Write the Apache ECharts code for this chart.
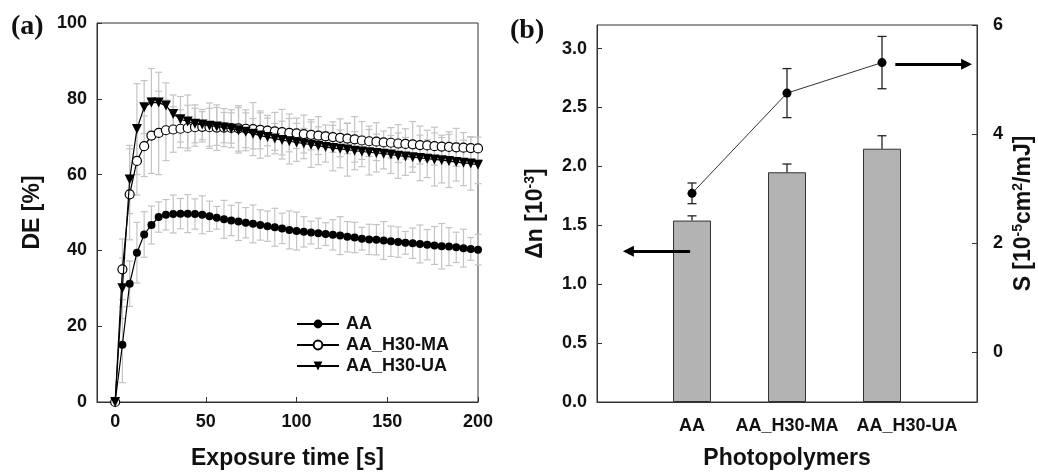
<!DOCTYPE html>
<html>
<head>
<meta charset="utf-8">
<script src="https://cdn.jsdelivr.net/npm/echarts@6/dist/echarts.min.js"></script>
<style>
  html, body { margin: 0; padding: 0; background: #fff; }
  #c { width: 1038px; height: 475px; }
</style>
</head>
<body>
<div id="c"></div>
<script>
// ---- (a) diffraction efficiency vs exposure time ----
const times = [0, 4, 8, 12, 16, 20, 24, 28, 32, 36,
  40, 44, 48, 52, 56, 60, 64, 68, 72, 76,
  80, 84, 88, 92, 96, 100, 104, 108, 112, 116,
  120, 124, 128, 132, 136, 140, 144, 148, 152, 156,
  160, 164, 168, 172, 176, 180, 184, 188, 192, 196, 200];

const deAA = [0, 15.1, 31.2, 39.4, 44.2, 46.7, 48.8, 49.4, 49.6, 49.7,
  49.7, 49.6, 49.4, 49.0, 48.6, 48.2, 47.9, 47.6, 47.3, 47.0,
  46.7, 46.4, 46.1, 45.8, 45.4, 45.1, 44.9, 44.7, 44.5, 44.3,
  44.1, 43.9, 43.6, 43.4, 43.1, 42.9, 42.8, 42.6, 42.4, 42.2,
  42.0, 41.9, 41.7, 41.5, 41.3, 41.1, 41.0, 40.8, 40.6, 40.4, 40.2];
const errAA = [0, 10, 6, 8, 6, 5, 4, 4, 5, 4,
  5, 4, 5, 4, 3, 5, 4, 5, 4, 5,
  4, 4, 5, 4, 5, 5, 4, 3, 4, 3,
  4, 5, 4, 4, 3, 4, 4, 5, 4, 4,
  3, 4, 5, 4, 5, 6, 5, 4, 5, 3, 4];

const deMA = [0, 35.0, 54.8, 63.6, 67.5, 70.3, 71.0, 71.7, 71.9, 72.1,
  72.3, 72.5, 72.6, 72.5, 72.4, 72.4, 72.3, 72.2, 72.1, 72.0,
  71.8, 71.6, 71.4, 71.2, 71.0, 70.9, 70.7, 70.5, 70.3, 70.1,
  69.9, 69.7, 69.5, 69.3, 69.0, 68.8, 68.7, 68.5, 68.4, 68.2,
  68.1, 68.0, 67.8, 67.7, 67.5, 67.4, 67.3, 67.2, 67.1, 67.0, 66.9];
const errMA = [0, 8, 12, 9, 8, 10, 11, 8, 6, 5,
  6, 5, 4, 5, 6, 5, 4, 6, 5, 7,
  5, 4, 5, 6, 5, 4, 5, 4, 5, 3,
  4, 5, 4, 6, 5, 4, 5, 3, 4, 5,
  4, 6, 5, 4, 5, 3, 4, 5, 4, 3, 3];

const deUA = [0, 30.0, 58.7, 72.0, 77.8, 79.0, 79.0, 78.2, 76.0, 74.6,
  74.0, 73.4, 73.2, 72.9, 72.7, 72.4, 72.1, 71.7, 71.3, 70.8,
  70.3, 69.9, 69.5, 69.1, 68.8, 68.5, 68.2, 67.9, 67.6, 67.3,
  67.0, 66.8, 66.6, 66.3, 66.1, 65.9, 65.7, 65.5, 65.3, 65.0,
  64.8, 64.6, 64.4, 64.2, 64.0, 63.8, 63.6, 63.3, 63.1, 62.9, 62.6];
const errUA = [0, 8, 9, 12, 7, 9, 8, 6, 5, 6,
  7, 5, 4, 6, 5, 4, 5, 6, 5, 4,
  6, 5, 4, 5, 6, 5, 4, 6, 5, 4,
  6, 5, 7, 5, 4, 6, 5, 4, 5, 6,
  5, 4, 6, 5, 7, 6, 7, 5, 6, 7, 5];

const timeTicks = [0, 50, 100, 150, 200];

// ---- (b) refractive index modulation and sensitivity ----
const polymers = ['AA', 'AA_H30-MA', 'AA_H30-UA'];
const deltaN = [1.54, 1.95, 2.15];
const deltaNErr = [0.04, 0.07, 0.11];
const sensitivity = [2.91, 4.75, 5.31];
const sensitivityErr = [0.19, 0.45, 0.48];
const deltaNTicks = [0, 0.5, 1.0, 1.5, 2.0, 2.5, 3.0];
const sensTicks = [0, 2, 4, 6];
// arrows pointing to the axis each series belongs to: [x, y] tail and head
const arrowLeft = [[0.98, 1.28], [0.33, 1.28]];
const arrowRight = [[3.14, 5.28], [3.89, 5.28]];

const FONT = '"Liberation Sans", Arial, sans-serif';
const INK = '#111';
const AXIS = '#333';

function pairs(xs, ys) { return xs.map((x, i) => [x, ys[i]]); }
function triples(xs, ys, es) { return xs.map((x, i) => [x, ys[i], es[i]]); }

// error bar with caps (optionally only the upper half)
function errorBar(color, capHalf, width, upperOnly) {
  return function (params, api) {
    const x = api.value(0), y = api.value(1), e = api.value(2);
    if (!e) return null;
    const lo = api.coord([x, upperOnly ? y : y - e]);
    const hi = api.coord([x, y + e]);
    const style = { stroke: color, lineWidth: width };
    const kids = [
      { type: 'line', shape: { x1: lo[0], y1: lo[1], x2: hi[0], y2: hi[1] }, style },
      { type: 'line', shape: { x1: hi[0] - capHalf, y1: hi[1], x2: hi[0] + capHalf, y2: hi[1] }, style }
    ];
    if (!upperOnly) {
      kids.push({ type: 'line', shape: { x1: lo[0] - capHalf, y1: lo[1], x2: lo[0] + capHalf, y2: lo[1] }, style });
    }
    return { type: 'group', children: kids };
  };
}

const tickLabel = { fontFamily: FONT, fontSize: 18, fontWeight: 'bold', color: INK };
const axisName = { fontFamily: FONT, fontSize: 23, fontWeight: 'bold', color: INK };
const supRich = {
  n: { fontFamily: FONT, fontSize: 23, fontWeight: 'bold', color: INK },
  s: { fontFamily: FONT, fontSize: 14, fontWeight: 'bold', color: INK, padding: [0, 0, 12, 0] }
};
const catRich = {
  c: { fontFamily: FONT, fontSize: 18, fontWeight: 'bold', color: INK },
  r: { fontFamily: FONT, fontSize: 18, fontWeight: 'bold', color: INK, padding: [0, 0, 0, 50] }
};

const chart = echarts.init(document.getElementById('c'), null, { renderer: 'canvas' });

chart.setOption({
  animation: false,
  backgroundColor: '#fff',
  graphic: [
    { type: 'text', left: 11, top: 13, style: { text: '(a)', font: 'bold 28px "Liberation Serif", "Times New Roman", serif', fill: INK } },
    { type: 'text', left: 510, top: 17, style: { text: '(b)', font: 'bold 28px "Liberation Serif", "Times New Roman", serif', fill: INK } }
  ],
  legend: {
    data: ['AA', 'AA_H30-MA', 'AA_H30-UA'],
    orient: 'vertical',
    left: 291,
    top: 310,
    itemWidth: 42,
    itemHeight: 11,
    itemGap: 3,
    textStyle: { fontFamily: FONT, fontSize: 18, fontWeight: 'bold', color: INK, padding: [0, 0, 0, 2] }
  },
  grid: [
    { left: 97, top: 23, width: 381, height: 381, show: true, borderColor: AXIS, borderWidth: 1 },
    { left: 597, top: 25, width: 380, height: 381, show: true, borderColor: AXIS, borderWidth: 1 }
  ],
  xAxis: [
    {
      gridIndex: 0, type: 'value', min: -10, max: 200,
      axisLine: { show: true, onZero: false, lineStyle: { color: AXIS, width: 1 } },
      axisTick: { show: true, inside: true, length: 5, customValues: timeTicks, lineStyle: { color: AXIS } },
      axisLabel: Object.assign({ customValues: timeTicks, margin: 11 }, tickLabel),
      splitLine: { show: false },
      name: 'Exposure time [s]', nameLocation: 'middle', nameGap: 45, nameTextStyle: axisName
    },
    {
      gridIndex: 1, type: 'value', min: 0, max: 4,
      axisLine: { show: true, onZero: false, lineStyle: { color: AXIS, width: 1 } },
      axisTick: { show: false },
      axisLabel: {
        customValues: [1, 2, 3], margin: 15, hideOverlap: false, showMinLabel: true, showMaxLabel: true,
        formatter: v => {
          const i = Math.round(v) - 1;
          return (i === polymers.length - 1 ? '{r|' : '{c|') + polymers[i] + '}';
        },
        rich: catRich
      },
      splitLine: { show: false },
      name: 'Photopolymers', nameLocation: 'middle', nameGap: 45, nameTextStyle: axisName
    }
  ],
  yAxis: [
    {
      gridIndex: 0, type: 'value', min: 0, max: 100, interval: 20,
      axisLine: { show: true, onZero: false, lineStyle: { color: AXIS, width: 1 } },
      axisTick: { show: true, inside: true, length: 5, lineStyle: { color: AXIS } },
      axisLabel: Object.assign({ margin: 10 }, tickLabel),
      splitLine: { show: false },
      name: 'DE [%]', nameLocation: 'middle', nameGap: 53, nameTextStyle: axisName
    },
    {
      gridIndex: 1, type: 'value', position: 'left', min: 0, max: 3.2,
      axisLine: { show: true, onZero: false, lineStyle: { color: AXIS, width: 1 } },
      axisTick: { show: true, inside: true, length: 5, customValues: deltaNTicks, lineStyle: { color: AXIS } },
      axisLabel: Object.assign({ customValues: deltaNTicks, margin: 10, formatter: v => v.toFixed(1) }, tickLabel),
      splitLine: { show: false },
      name: '{n|Δn [10}{s|-3}{n|]}', nameLocation: 'middle', nameGap: 48,
      nameTextStyle: { rich: supRich }
    },
    {
      gridIndex: 1, type: 'value', position: 'right', min: -0.92, max: 6,
      axisLine: { show: true, onZero: false, lineStyle: { color: AXIS, width: 1 } },
      axisTick: { show: true, inside: true, length: 5, customValues: sensTicks, lineStyle: { color: AXIS } },
      axisLabel: Object.assign({ customValues: sensTicks, margin: 16 }, tickLabel),
      splitLine: { show: false },
      name: '{n|S [10}{s|-5}{n|cm}{s|2}{n|/mJ]}', nameLocation: 'middle', nameGap: 34,
      nameTextStyle: { rich: supRich }
    }
  ],
  series: [
    // error bars behind the curves
    { type: 'custom', name: 'err AA', xAxisIndex: 0, yAxisIndex: 0, z: 1, silent: true,
      renderItem: errorBar('#c4c4c4', 3.5, 1.2, false), data: triples(times, deAA, errAA) },
    { type: 'custom', name: 'err MA', xAxisIndex: 0, yAxisIndex: 0, z: 1, silent: true,
      renderItem: errorBar('#c4c4c4', 3.5, 1.2, false), data: triples(times, deMA, errMA) },
    { type: 'custom', name: 'err UA', xAxisIndex: 0, yAxisIndex: 0, z: 1, silent: true,
      renderItem: errorBar('#c4c4c4', 3.5, 1.2, false), data: triples(times, deUA, errUA) },

    { type: 'line', name: 'AA', xAxisIndex: 0, yAxisIndex: 0, z: 3,
      symbol: 'circle', symbolSize: 8,
      itemStyle: { color: '#000' }, lineStyle: { color: '#000', width: 1.2 },
      data: pairs(times, deAA) },
    { type: 'line', name: 'AA_H30-MA', xAxisIndex: 0, yAxisIndex: 0, z: 3,
      symbol: 'circle', symbolSize: 9,
      itemStyle: { color: '#fff', borderColor: '#000', borderWidth: 1.2 }, lineStyle: { color: '#000', width: 1.2 },
      data: pairs(times, deMA) },
    { type: 'line', name: 'AA_H30-UA', xAxisIndex: 0, yAxisIndex: 0, z: 4,
      symbol: 'triangle', symbolRotate: 180, symbolSize: 10,
      itemStyle: { color: '#000' }, lineStyle: { color: '#000', width: 1.2 },
      data: pairs(times, deUA) },

    // (b) bars on the left axis
    { type: 'bar', name: 'Δn', xAxisIndex: 1, yAxisIndex: 1, barWidth: 38, z: 2,
      itemStyle: { color: '#b3b3b3', borderColor: '#333', borderWidth: 1 },
      data: pairs([1, 2, 3], deltaN) },
    { type: 'custom', name: 'err Δn', xAxisIndex: 1, yAxisIndex: 1, z: 3, silent: true,
      renderItem: errorBar('#222', 4.5, 1.3, true), data: triples([1, 2, 3], deltaN, deltaNErr) },

    // (b) sensitivity on the right axis
    { type: 'custom', name: 'err S', xAxisIndex: 1, yAxisIndex: 2, z: 4, silent: true,
      renderItem: errorBar('#222', 4.5, 1.3, false), data: triples([1, 2, 3], sensitivity, sensitivityErr) },
    { type: 'line', name: 'S', xAxisIndex: 1, yAxisIndex: 2, z: 5,
      symbol: 'circle', symbolSize: 9,
      itemStyle: { color: '#000' }, lineStyle: { color: '#333', width: 1 },
      data: pairs([1, 2, 3], sensitivity) },

    // axis-pointer arrows
    { type: 'lines', coordinateSystem: 'cartesian2d', xAxisIndex: 1, yAxisIndex: 1, z: 6,
      symbol: ['none', 'triangle'], symbolSize: 11,
      lineStyle: { color: '#000', width: 3, opacity: 1 },
      data: [{ coords: arrowLeft }] },
    { type: 'lines', coordinateSystem: 'cartesian2d', xAxisIndex: 1, yAxisIndex: 2, z: 6,
      symbol: ['none', 'triangle'], symbolSize: 11,
      lineStyle: { color: '#000', width: 3, opacity: 1 },
      data: [{ coords: arrowRight }] }
  ]
});
</script>
</body>
</html>
